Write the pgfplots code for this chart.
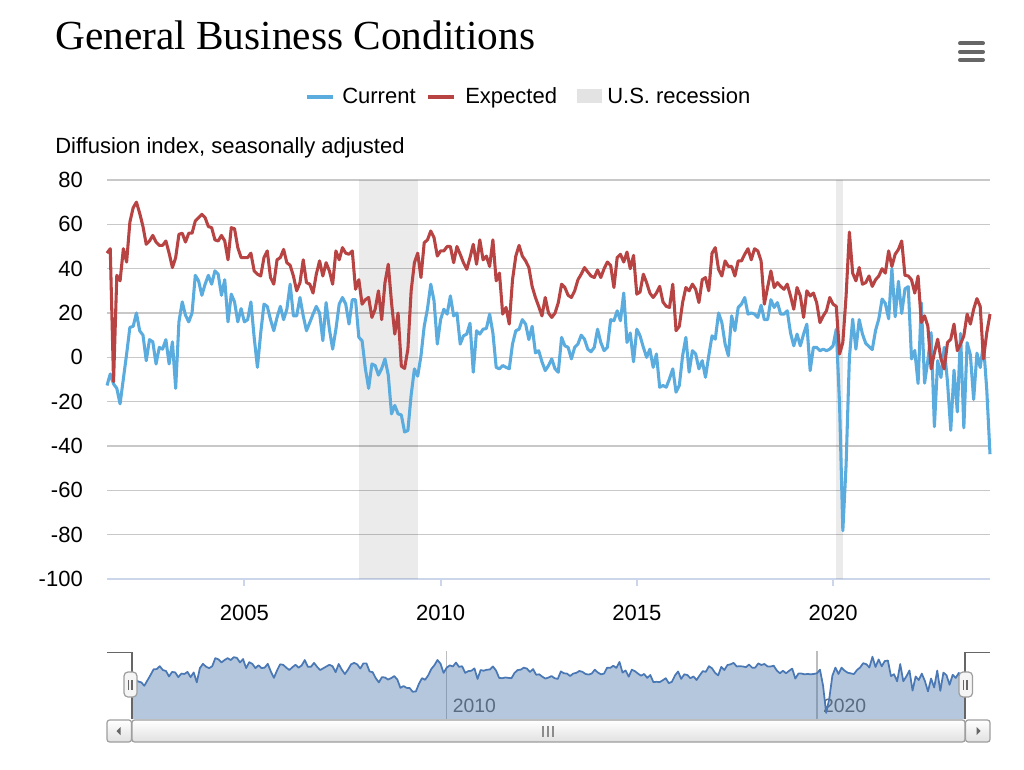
\documentclass[border=0pt]{standalone}
\usepackage{fontspec}
\setmainfont{Liberation Sans}
\newfontfamily\titlefont{Liberation Serif}
\usepackage{pgfplots}
\usepackage{pgfplotstable}
\pgfplotsset{compat=1.18}

\definecolor{cur}{HTML}{5AACDF}
\definecolor{expc}{HTML}{B84343}
\definecolor{recleg}{HTML}{E3E3E3}
\definecolor{gridgray}{HTML}{C8C8C8}
\definecolor{axisblue}{HTML}{CCD6EB}
\definecolor{navline}{HTML}{4A78B5}
\definecolor{navfill}{HTML}{4473AA}
\definecolor{navgrid}{HTML}{BDBDBD}
\definecolor{navtext}{HTML}{666666}
\definecolor{darkg}{HTML}{666666}
\definecolor{bord}{HTML}{9E9E9E}

% t = year + (month-1)/12 ; cur = current index ; exp = expected (six months ahead)
\pgfplotstableread{
t cur exp
2001.500 -12.7 47
2001.583 -7.5 49
2001.667 -12 -11
2001.750 -14 37
2001.833 -21 34.5
2001.917 -9.7 49
2002.000 1.5 43
2002.083 13.5 61
2002.167 14 67.5
2002.250 20 70
2002.333 12 65
2002.417 10 59
2002.500 -1.5 51
2002.583 8 52.5
2002.667 7 55
2002.750 -3 52
2002.833 4.5 50.5
2002.917 3.7 50.5
2003.000 8 52.5
2003.083 -3 47
2003.167 7 40.5
2003.250 -14 45
2003.333 16 55.5
2003.417 25 56
2003.500 19 52
2003.583 16 56
2003.667 20 56
2003.750 37 61.5
2003.833 34.5 63
2003.917 28 64.5
2004.000 33 63
2004.083 37 59
2004.167 33 58.5
2004.250 39 53
2004.333 37.5 52.5
2004.417 28 55
2004.500 35 52.5
2004.583 16 44
2004.667 28.5 58.5
2004.750 25 58
2004.833 16 49.5
2004.917 22 45
2005.000 16 45
2005.083 17 45
2005.167 25 47
2005.250 9 39
2005.333 -4.5 37.5
2005.417 11 36.7
2005.500 24 45
2005.583 23 48
2005.667 17 36
2005.750 12 33
2005.833 18 44
2005.917 23 45
2006.000 17 48.7
2006.083 21.7 42.7
2006.167 33 41.5
2006.250 18.7 36.7
2006.333 18.7 30
2006.417 27 33.7
2006.500 18.7 44
2006.583 12 33.7
2006.667 15.7 33
2006.750 19.5 29
2006.833 23 37.5
2006.917 20 43.5
2007.000 7.5 36.7
2007.083 24.7 42.7
2007.167 12.7 39
2007.250 3.7 33
2007.333 12.7 48
2007.417 24 44
2007.500 27 49.5
2007.583 24 47
2007.667 15 46.5
2007.750 26 48
2007.833 26 30.7
2007.917 9 35
2008.000 7.5 24
2008.083 -5 26
2008.167 -14 27
2008.250 -3 18
2008.333 -3.7 21.7
2008.417 -8 30
2008.500 -5 17
2008.583 -0.7 33.7
2008.667 -8 42
2008.750 -25.5 24.7
2008.833 -21.7 10.5
2008.917 -25.5 20
2009.000 -26 -4
2009.083 -33.7 -5
2009.167 -33 3.7
2009.250 -17 30
2009.333 -5.2 42.7
2009.417 -8.5 47
2009.500 0.7 36
2009.583 14 51.7
2009.667 22 53
2009.750 33 57
2009.833 25.5 54
2009.917 6 45.7
2010.000 17 48
2010.083 21.7 48
2010.167 19.5 50
2010.250 27.7 50
2010.333 18.7 42.7
2010.417 20 50
2010.500 6 46.5
2010.583 9.7 42.7
2010.667 10.5 39.7
2010.750 15.4 45
2010.833 -6.7 51
2010.917 12 42
2011.000 10.5 53
2011.083 12.7 44
2011.167 13 45.7
2011.250 19.5 41
2011.333 11 53
2011.417 -4.5 34.5
2011.500 -5.2 38
2011.583 -3.7 19.5
2011.667 -4.5 22.5
2011.750 -5.2 15
2011.833 6 35
2011.917 12 45.7
2012.000 12.7 50.5
2012.083 17 45.7
2012.167 15 43.5
2012.250 8 40.5
2012.333 14 32
2012.417 2 27
2012.500 3 23
2012.583 -2 18.7
2012.667 -6 27
2012.750 -3.7 20
2012.833 -0.7 18
2012.917 -5.2 20
2013.000 -6.7 24.7
2013.083 9 33
2013.167 5.2 31.5
2013.250 4.5 28
2013.333 -0.7 27
2013.417 4.5 30
2013.500 6 35
2013.583 10 37.5
2013.667 8.2 40.5
2013.750 3.7 38.5
2013.833 2.5 36.7
2013.917 4.5 36
2014.000 12.7 39.4
2014.083 6.7 36
2014.167 3 40
2014.250 4.5 43
2014.333 17 41.5
2014.417 16.5 31.5
2014.500 21 45
2014.583 16.5 46.5
2014.667 29 43
2014.750 6.7 47.5
2014.833 11 40
2014.917 -2 46
2015.000 12.7 28.5
2015.083 9.7 29.5
2015.167 4.5 37.5
2015.250 0 33.7
2015.333 3.7 29
2015.417 -4.5 27
2015.500 1.5 29
2015.583 -13.5 32
2015.667 -12.7 25
2015.750 -13.5 23
2015.833 -9.7 22.5
2015.917 -5.2 33
2016.000 -15.7 12
2016.083 -12.7 14
2016.167 0.7 24.7
2016.250 9 31.5
2016.333 -6.7 30
2016.417 3 33
2016.500 1.5 30.7
2016.583 -5.2 24.7
2016.667 -1.5 35
2016.750 -9 36
2016.833 0.7 30
2016.917 9.7 47
2017.000 8.2 49.5
2017.083 20 39.7
2017.167 15.7 36.7
2017.250 6 43.5
2017.333 0.7 41
2017.417 18.7 41
2017.500 12 36.7
2017.583 22.5 43.5
2017.667 24 43.5
2017.750 27 46.5
2017.833 19.5 49
2017.917 20 44
2018.000 19.5 49
2018.083 18 48
2018.167 23.5 43.5
2018.250 17 24
2018.333 17 31.5
2018.417 26 39
2018.500 22.5 31.5
2018.583 24.7 33.7
2018.667 19.5 32
2018.750 19.5 30.7
2018.833 21 33
2018.917 11 27.7
2019.000 5.2 21.7
2019.083 10.5 31.5
2019.167 5.2 27.7
2019.250 10.5 18
2019.333 15 30
2019.417 -6 27.7
2019.500 4.5 29
2019.583 4.5 24.7
2019.667 3 15.7
2019.750 3.7 18.7
2019.833 3 21
2019.917 3.7 27
2020.000 5.2 24
2020.083 12.7 23
2020.167 -21.5 1.5
2020.250 -78.2 6.7
2020.333 -48.5 27.7
2020.417 -0.2 56.5
2020.500 17.2 38
2020.583 3.7 34.5
2020.667 17 40.5
2020.750 10.5 33
2020.833 6.3 33.7
2020.917 4.9 36.7
2021.000 3.5 32
2021.083 12.1 35
2021.167 17.4 36.7
2021.250 26.3 40
2021.333 24.3 38
2021.417 17.4 48
2021.500 40 41
2021.583 18.3 46.5
2021.667 34.3 48.7
2021.750 19.8 52.5
2021.833 30.9 37
2021.917 31.9 36.7
2022.000 -0.7 35
2022.083 3.1 29
2022.167 -11.8 36.7
2022.250 24.6 15.7
2022.333 -11.6 18.7
2022.417 -1.2 14
2022.500 11.1 -5.2
2022.583 -31.3 2
2022.667 -1.5 8.2
2022.750 -9.1 -0.7
2022.833 4.5 -5.2
2022.917 -11.2 6.7
2023.000 -32.9 8.2
2023.083 -5.8 15
2023.167 -24.6 3
2023.250 10.8 6
2023.333 -31.8 9.7
2023.417 6.6 19.5
2023.500 1.1 15
2023.583 -19 21.7
2023.667 1.9 26.5
2023.750 -4.6 23
2023.833 6 -0.7
2023.917 -14.5 11
2024.000 -43.7 19.5
}\data

\begin{document}
\begin{tikzpicture}
\fill[white] (0pt,0pt) rectangle (768pt,-577.5pt);

% ---------------- main chart ----------------
\begin{axis}[
  at={(80.25pt,-434.25pt)}, anchor=south west,
  width=662.25pt, height=299.25pt, scale only axis,
  xmin=2001.5, xmax=2024.0,
  ymin=-100, ymax=80, ytick={-100,-80,...,80},
  xtick={2005,2010,2015,2020},
  xticklabels={2005,2010,2015,2020},
  axis x line*=bottom, axis y line*=left,
  x axis line style={draw=axisblue, line width=1.5pt},
  y axis line style={draw=none},
  xtick style={draw=axisblue, line width=1.5pt},
  ytick style={draw=none},
  tick align=outside, major tick length=5.25pt,
  ymajorgrids, major grid style={draw=gridgray, line width=1.2pt},
  /pgf/number format/assume math mode=true,
  ticklabel style={font=\fontsize{16.5}{19.8}\selectfont},
  xticklabel style={anchor=north, inner sep=0pt, yshift=-14.25pt},
  yticklabel style={anchor=east, inner sep=0pt, xshift=-12.75pt},
  title={General Business Conditions},
  every axis title/.style={at={(axis description cs:-0.0589,1.3283)}, anchor=base west, inner sep=0pt, font=\titlefont\fontsize{31}{37}\selectfont},
  ylabel={Diffusion index, seasonally adjusted},
  every axis y label/.style={at={(axis description cs:-0.0589,1.0652)}, anchor=base west, inner sep=0pt, font=\fontsize{16.5}{19.8}\selectfont},
  clip=false,
]
% U.S. recessions (Dec 2007 - Jun 2009, Feb 2020 - Apr 2020)
\addplot[fill=black, fill opacity=0.078, draw=none, forget plot] coordinates {(2007.917,-100) (2007.917,80) (2009.417,80) (2009.417,-100)};
\addplot[fill=black, fill opacity=0.078, draw=none, forget plot] coordinates {(2020.083,-100) (2020.083,80) (2020.250,80) (2020.250,-100)};
\addplot[cur, line width=2.3pt, line join=round, no markers] table[x=t, y=cur] {\data};
\addplot[expc, line width=2.3pt, line join=round, no markers] table[x=t, y=exp] {\data};
\end{axis}

% ---------------- navigator (Current series; y shifted by 91 so that the area closes at the bottom edge) ----------------
\begin{axis}[
  at={(99pt,-539.25pt)}, anchor=south west,
  width=624.75pt, height=51pt, scale only axis,
  xmin=2001.5, xmax=2024.0, ymin=0, ymax=143,
  axis line style={draw=none},
  xtick={2010,2020}, xticklabels={2010,2020}, ytick=\empty,
  xmajorgrids, major grid style={draw=navgrid, line width=1pt},
  major tick length=0pt, tick style={draw=none},
  xticklabel style={anchor=base west, inner sep=0pt, xshift=4.5pt, yshift=4.7pt, font=\fontsize{14.5}{16}\selectfont, text=navtext},
]
\addplot[fill=navfill, fill opacity=0.4, draw=none, forget plot] table[x=t, y expr=\thisrow{cur}+91] {\data} \closedcycle;
\addplot[navline, line width=1.3pt, line join=round, no markers] table[x=t, y expr=\thisrow{cur}+91] {\data};
\end{axis}

% ---------------- decorations (pixel coordinates) ----------------
\begin{scope}[x=0.75pt, y=-0.75pt]
  % legend
  \draw[cur, line width=2.3pt] (307,97) -- (333,97);
  \node[anchor=base west, inner sep=0pt, font=\fontsize{16.5}{19.8}\selectfont] at (342,104) {Current};
  \draw[expc, line width=2.3pt] (428,97) -- (454,97);
  \node[anchor=base west, inner sep=0pt, font=\fontsize{16.5}{19.8}\selectfont] at (465,104) {Expected};
  \fill[recleg] (577,89) rectangle (602,103);
  \node[anchor=base west, inner sep=0pt, font=\fontsize{16.5}{19.8}\selectfont] at (607,104) {U.S. recession};
  % menu icon
  \draw[darkg, line width=3pt, line cap=round] (960,43.5) -- (983,43.5);
  \draw[darkg, line width=3pt, line cap=round] (960,51.8) -- (983,51.8);
  \draw[darkg, line width=3pt, line cap=round] (960,60) -- (983,60);
  % navigator outline
  \draw[darkg, line width=1pt] (107,652.5) -- (132,652.5) -- (132,719);
  \draw[darkg, line width=1pt] (965,719) -- (965,652.5) -- (990,652.5);
  % scrollbar
  \shade[top color=white, bottom color=black!12, draw=bord, line width=0.9pt, rounded corners=2pt] (107,720) rectangle (131.5,742);
  \fill[darkg] (116.5,731) -- (120.5,727) -- (120.5,735) -- cycle;
  \shade[top color=white, bottom color=black!12, draw=bord, line width=0.9pt, rounded corners=2pt] (132,720) rectangle (965,742);
  \draw[black!45, line width=1.5pt] (542.7,726) -- (542.7,737) (548,726) -- (548,737) (553.3,726) -- (553.3,737);
  \shade[top color=white, bottom color=black!12, draw=bord, line width=0.9pt, rounded corners=2pt] (965.5,720) rectangle (990,742);
  \fill[darkg] (980.5,731) -- (976.5,727) -- (976.5,735) -- cycle;
  % handles
  \draw[fill=black!4, draw=bord, line width=0.9pt, rounded corners=3pt] (124,672) rectangle (137,697);
  \draw[darkg, line width=0.8pt] (128.5,680) -- (128.5,690) (132,680) -- (132,690);
  \draw[fill=black!4, draw=bord, line width=0.9pt, rounded corners=3pt] (959,672) rectangle (972.5,697);
  \draw[darkg, line width=0.8pt] (963.5,680) -- (963.5,690) (967,680) -- (967,690);
\end{scope}
\end{tikzpicture}
\end{document}
